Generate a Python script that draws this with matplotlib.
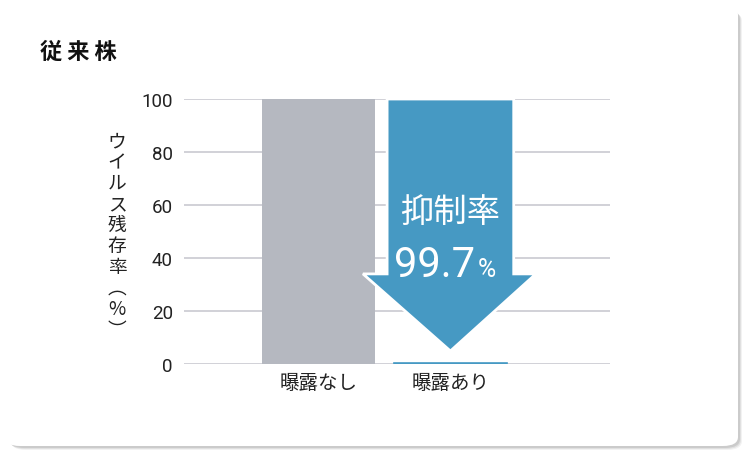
import numpy as np
import matplotlib.pyplot as plt
from matplotlib.patches import FancyBboxPatch, Polygon

plt.rcParams['font.family'] = ['Noto Sans CJK JP', 'DejaVu Sans']

# data
categories = ['曝露なし', '曝露あり']
values = [100, 0.3]
suppression = 99.7
yticks = [0, 20, 40, 60, 80, 100]
title = '従 来 株'
ylabel = 'ウイルス残存率︵%︶'

gray = '#b5b8c0'
blue = '#4699c3'
grid_col = '#c9c9d1'

fig = plt.figure(figsize=(7.51, 4.56), dpi=100)

# card with soft shadow
for i, a in enumerate([0.05, 0.07, 0.09]):
    off = (4 - i) / 751
    sh = FancyBboxPatch((7 / 751 + off, 9 / 456 - off * 751 / 456), 731 / 751, 438 / 456,
                        boxstyle='round,pad=0,rounding_size=0.02',
                        transform=fig.transFigure, facecolor='black', alpha=a,
                        edgecolor='none', zorder=0)
    fig.patches.append(sh)
card = FancyBboxPatch((5 / 751, 9 / 456), 733 / 751, 440 / 456,
                      boxstyle='round,pad=0,rounding_size=0.02',
                      transform=fig.transFigure, facecolor='white',
                      edgecolor='none', zorder=1)
fig.patches.append(card)

ax = fig.add_axes([184 / 751, 91 / 456, 426 / 751, 265 / 456])
ax.set_facecolor('none')
ax.set_zorder(2)

x = np.arange(len(categories))
ax.bar(x[0], values[0], width=0.86, color=gray, zorder=2)
ax.bar(x[1], values[1], width=0.86, color=blue, edgecolor=blue, linewidth=1.2, zorder=2)

ax.set_xlim(-1.02, 2.21)
ax.set_ylim(0, 100)
ax.set_yticks(yticks)
ax.yaxis.grid(True, color=grid_col, linewidth=1.2, zorder=0)
ax.set_axisbelow(True)
for s in ax.spines.values():
    s.set_visible(False)
ax.tick_params(axis='y', length=0, pad=8, labelsize=13.5, labelcolor='#222222')
ax.tick_params(axis='x', length=0, pad=6, labelsize=14, labelcolor='#222222')
for lab in ax.get_yticklabels():
    lab.set_family(['Roboto', 'DejaVu Sans'])
ax.set_xticks(x)
ax.set_xticklabels(categories)

# arrow from the top of the first bar down to the second
cx = x[1]
top = values[0]
head_y = 34
tip_y = values[1] + 4.6
shaft = 0.48
head_l, head_r = 0.663, 0.648
arrow = Polygon([(cx - shaft, top), (cx + shaft, top), (cx + shaft, head_y),
                 (cx + head_r, head_y), (cx, tip_y), (cx - head_l, head_y),
                 (cx - shaft, head_y)],
                closed=True, facecolor=blue, edgecolor='white', linewidth=2,
                joinstyle='miter', zorder=3, clip_on=False)
ax.add_patch(arrow)

ax.text(cx, 57.7, '抑制率', color='white', fontsize=24, ha='center', va='center', zorder=4)
ax.text(cx + 0.186, 33.2, f'{suppression}', color='white', fontsize=30, ha='right',
        va='baseline', family=['Roboto', 'DejaVu Sans'], zorder=4)
ax.text(cx + 0.208, 33.2, '%', color='white', fontsize=18, ha='left',
        va='baseline', family=['Roboto', 'DejaVu Sans'], zorder=4)

# vertical y label
fig.text(117 / 751, 1 - 236 / 456, '\n'.join(ylabel), ha='center', va='center',
         fontsize=13.5, linespacing=1.0, color='#222222', zorder=5)

fig.text(40 / 751, 1 - 52 / 456, title, ha='left', va='center', fontsize=16,
         fontweight='bold', color='#111111', zorder=5)

fig.savefig('out.png', dpi=100)
